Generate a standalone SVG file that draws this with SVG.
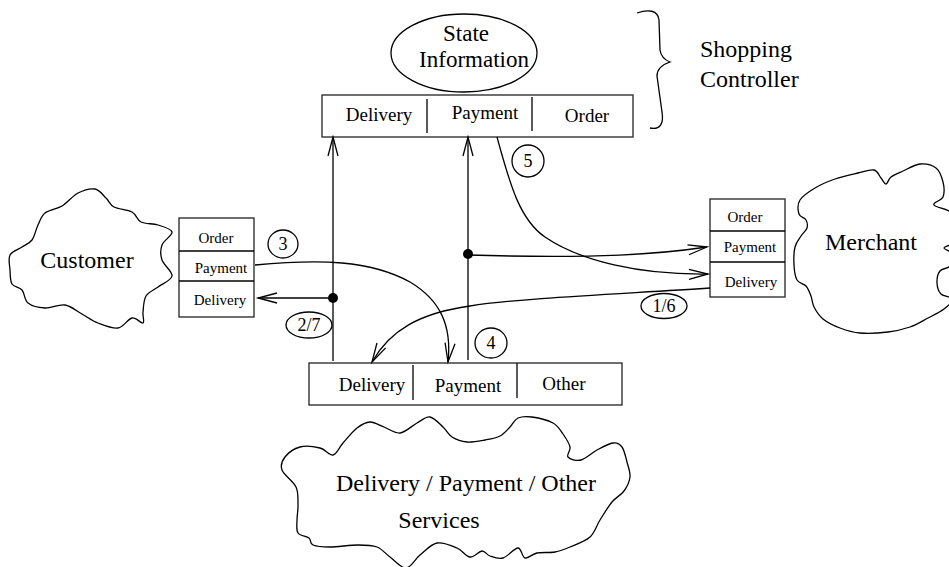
<svg xmlns="http://www.w3.org/2000/svg" width="949" height="567" viewBox="0 0 949 567">
  <style>
    .ln { fill: none; stroke: #000; stroke-width: 1.3; }
    .box { fill: #fff; stroke: #222; stroke-width: 1.3; }
    .cloud { fill: none; stroke: #000; stroke-width: 1.3; stroke-linejoin: round; }
    .t { font-family: "Liberation Serif", "Times New Roman", serif; fill: #000; text-anchor: middle; }
    .big { font-size: 24px; }
    .state { font-size: 23px; }
    .mid { font-size: 19px; }
    .sm { font-size: 15px; }
    .num { font-size: 18px; }
  </style>
  <defs>
    <marker id="arrow" markerUnits="userSpaceOnUse" markerWidth="24" markerHeight="14" viewBox="-21 -7 24 14" refX="0" refY="0" orient="auto">
      <path d="M-19,-5 L0,0 L-19,5" fill="none" stroke="#000" stroke-width="1.3"/>
    </marker>
  </defs>

  <!-- Shopping controller: state store and its three ports -->
  <g id="state-information">
    <ellipse cx="464" cy="53" rx="73" ry="39" class="ln"/>
    <text x="466" y="41" class="t state">State</text>
    <text x="474" y="67" class="t state">Information</text>
  </g>
  <g id="controller-ports">
    <rect x="322" y="95" width="311" height="42" class="box"/>
    <line x1="427" y1="99" x2="427" y2="133" class="ln"/>
    <line x1="532" y1="97" x2="532" y2="131" class="ln"/>
    <text x="379" y="121" class="t mid">Delivery</text>
    <text x="485" y="119" class="t mid">Payment</text>
    <text x="587" y="122" class="t mid">Order</text>
  </g>
  <g id="shopping-controller">
    <path d="M637,13 C648,9 658,10 659,20 L660,50 C661,57 665,60 670,62 C664,64 657,68 657,76 L662,112 C664,124 660,130 650,128" class="ln"/>
    <text x="700" y="57" class="t big" style="text-anchor:start">Shopping</text>
    <text x="700" y="87" class="t big" style="text-anchor:start">Controller</text>
  </g>

  <!-- Customer -->
  <g id="customer">
    <path class="cloud" d="M78,193 C83.5,190.2 90.3,188.2 95,189 S102.8,195 106,198 S109.7,204.7 114,207 S127.5,209.5 132,212 S136.7,219.8 141,222 S152.8,223.3 158,225 S171.3,228.7 172,232 S163.7,240.3 162,245 S160.3,254.8 162,260 S172.7,271.5 172,276 S162.3,283.7 158,287 S148.5,291.8 146,296 S143.5,307.5 143,312 S144.8,322 143,323 S136.2,317.2 132,318 S123.7,327.2 118,328 S104,325.3 98,323 S87.5,317 82,314 S71.2,306 65,305 S51.2,308.3 45,308 S31.8,306 28,303 S24.7,293.2 22,290 S14,287.3 12,284 S10.3,274.8 10,270 S8,258.8 10,255 S18.3,249.5 22,247 S29.3,243.7 32,240 S35.8,229.5 38,225 S41,216.2 45,213 S56.5,209.3 62,206 S72.5,195.8 78,193 Z"/>
    <text x="87" y="268" class="t big">Customer</text>
  </g>
  <g id="customer-ports">
    <rect x="179" y="218" width="75" height="99" class="box"/>
    <line x1="179" y1="251" x2="254" y2="251" class="ln"/>
    <line x1="179" y1="281" x2="254" y2="281" class="ln"/>
    <text x="216" y="243" class="t sm">Order</text>
    <text x="221" y="273" class="t sm">Payment</text>
    <text x="220" y="305" class="t sm">Delivery</text>
  </g>

  <!-- Merchant -->
  <g id="merchant">
    <path class="cloud" d="M800,200 C802.7,195.7 809.2,191.5 815,188 S827.8,181.5 835,179 S851.5,174.5 858,173 S870.2,169.2 874,170 S879,175.7 881,178 S884.3,184.2 886,184 S888.2,179.2 891,177 S898.2,173.2 903,171 S914.5,164.5 920,164 S932.2,165 936,168 S941.8,177.2 943,182 S944.5,193.2 943,197 S932.5,202.3 934,205 S948.3,208.8 952,213 S956,225 956,230 S954,240 952,243 S943.8,246.2 944,248 S952,251 953,254 S952.2,263.2 950,266 S942.2,268.2 940,271 S936.8,279.2 937,283 S938.3,291.3 941,294 S952.5,296.5 953,299 S948.2,305.8 944,309 S933.7,315 928,318 S916.7,324.7 910,327 S896.3,331 888,332 S868,333.7 860,333 S846.2,330.3 840,328 S827.3,322.5 823,319 S816,310.8 814,307 S812.3,299.5 811,296 S808.3,288.7 806,286 S799,283.5 797,280 S794.3,270.5 794,265 S793.8,251.8 795,247 S799,239.2 801,236 S806.2,230.7 807,228 S807.3,222.3 806,220 S800,217.3 799,214 S797.3,204.3 800,200 Z"/>
    <text x="871" y="250" class="t big">Merchant</text>
  </g>
  <g id="merchant-ports">
    <rect x="710" y="199" width="75" height="98" class="box"/>
    <line x1="710" y1="231" x2="785" y2="231" class="ln"/>
    <line x1="710" y1="262" x2="785" y2="262" class="ln"/>
    <text x="745" y="222" class="t sm">Order</text>
    <text x="750" y="252" class="t sm">Payment</text>
    <text x="751" y="287" class="t sm">Delivery</text>
  </g>

  <!-- Service providers -->
  <g id="service-ports">
    <rect x="309" y="363" width="313" height="42" class="box"/>
    <line x1="413" y1="365" x2="413" y2="400" class="ln"/>
    <line x1="517" y1="363" x2="517" y2="398" class="ln"/>
    <text x="372" y="391" class="t mid">Delivery</text>
    <text x="468" y="392" class="t mid">Payment</text>
    <text x="564" y="390" class="t mid">Other</text>
  </g>
  <g id="services">
    <path class="cloud" d="M300,447 C305.8,445.5 314.5,446.7 320,448 S329.2,455.8 333,455 S339,447.5 343,443 S352.5,431.5 357,428 S365.5,422.2 370,422 S379,425.2 384,427 S394.5,433.7 400,433 S412,425.7 417,423 S425.7,416.3 430,417 S439.3,423.7 443,427 S448,434.5 452,437 S461.5,441.5 467,442 S479.5,441 485,440 S495.8,438.2 500,436 S507,430 510,427 S514.3,419.7 518,418 S526.2,416.2 532,417 S547.8,420.2 553,423 S560.2,430 563,434 S569.2,443.2 570,447 S566.2,454.8 568,457 S576.2,461.2 581,460 S591.7,452.8 597,450 S608.8,443.5 613,443 S619.7,443.8 622,447 S625.7,457 627,462 S630.5,472.2 630,477 S627,486.8 624,491 S616,497.2 612,502 S603.7,514.2 600,520 S595,532.5 590,537 S575.8,544.5 570,547 S560.5,551 555,552 S542,552 537,553 S528.2,558.8 525,558 S521.7,548 518,548 S507.7,556.7 503,558 S493.5,557.2 490,556 S485.3,550.8 482,551 S474.2,557.5 470,557 S462.5,550.3 457,548 S443.2,541.8 437,543 S425.2,550.8 420,555 S411,567.7 406,568 S394.8,560.5 390,557 S382.3,549 377,547 S365.8,545 358,545 S337.5,547 330,547 S316.5,546.5 313,545 S311.5,540 309,538 S300,536 298,533 S297,524.7 297,520 S298.2,510.5 298,505 S298.7,492.8 296,487 S283.8,475 282,470 S282,460.8 285,457 S294.2,448.5 300,447 Z"/>
    <text x="466" y="491" class="t big">Delivery / Payment / Other</text>
    <text x="439" y="528" class="t big">Services</text>
  </g>

  <!-- Message flows -->
  <g id="connectors">
    <line x1="333" y1="361" x2="333" y2="137" class="ln" marker-end="url(#arrow)"/>
    <line x1="468" y1="360" x2="468" y2="137" class="ln" marker-end="url(#arrow)"/>
    <line x1="333" y1="298" x2="258" y2="298" class="ln" marker-end="url(#arrow)"/>
    <path d="M468,255 C600,259 660,254 707,247" class="ln" marker-end="url(#arrow)"/>
    <path d="M497,137 C510,185 520,220 545,237 C580,261 640,275 708,274" class="ln" marker-end="url(#arrow)"/>
    <path d="M255,265 C320,259 370,260 410,282 C440,300 452,325 448,362" class="ln" marker-end="url(#arrow)"/>
    <path d="M710,288 C620,294 520,298 470,306 C420,313 390,330 372,362" class="ln" marker-end="url(#arrow)"/>
    <circle cx="333" cy="298" r="5" fill="#000"/>
    <circle cx="468" cy="254" r="5" fill="#000"/>
  </g>

  <!-- Step labels -->
  <g id="step-labels">
    <ellipse cx="283" cy="244" rx="15" ry="14" class="ln"/>
    <text x="283" y="250" class="t num">3</text>
    <ellipse cx="309" cy="325" rx="23" ry="13" class="ln"/>
    <text x="309" y="331" class="t num">2/7</text>
    <ellipse cx="491" cy="343" rx="16" ry="15" class="ln"/>
    <text x="491" y="349" class="t num">4</text>
    <ellipse cx="528" cy="161" rx="16" ry="16" class="ln"/>
    <text x="528" y="167" class="t num">5</text>
    <ellipse cx="664" cy="306" rx="23" ry="12.5" class="ln"/>
    <text x="664" y="312" class="t num">1/6</text>
  </g>
</svg>
